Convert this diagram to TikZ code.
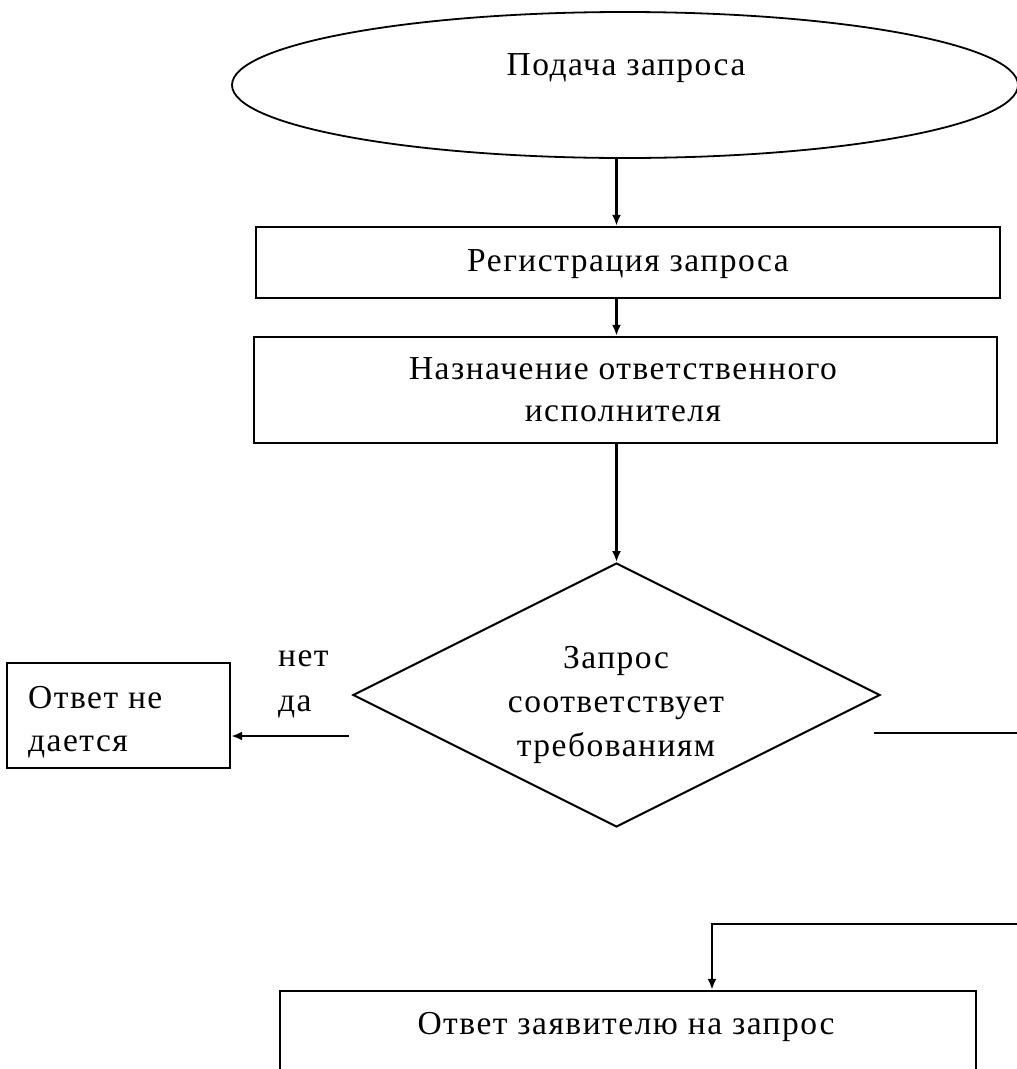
\documentclass[tikz,border=0pt]{standalone}
\usepackage{fontspec}
\setmainfont[LetterSpace=4.5]{Liberation Serif}
\usetikzlibrary{shapes.geometric,arrows.meta,calc}
\begin{document}
\begin{tikzpicture}[x=1pt,y=-1pt,
  shapeline/.style={draw=black,line width=1.8pt},
  boxshape/.style={shapeline,rectangle,inner sep=0pt,line width=2.4pt},
  txt/.style={anchor=base,inner sep=0pt,font=\fontsize{33.5pt}{43pt}\selectfont},
  txtl/.style={anchor=base west,inner sep=0pt,font=\fontsize{33.5pt}{43pt}\selectfont},
  arr/.style={line width=2.2pt,-{Latex[length=11pt,width=9pt]}},
  conn/.style={line width=2.2pt}]
\useasboundingbox (0,0) rectangle (1017,1069);
\clip (0,0) rectangle (1017,1069);

% shapes
\node[shapeline,ellipse,inner sep=0pt,minimum width=786pt,minimum height=146pt,line width=1.8pt] (start) at (625,85) {};
\node[boxshape,minimum width=744pt,minimum height=71pt] (reg) at (628,262.5) {};
\node[boxshape,minimum width=743pt,minimum height=106pt] (assign) at (625.5,390) {};
\node[shapeline,diamond,inner sep=0pt,minimum width=527pt,minimum height=264pt,line width=2pt] (dec) at (616.5,695) {};
\node[boxshape,minimum width=223pt,minimum height=105pt] (notbox) at (118.5,715.5) {};
\node[boxshape,minimum width=696pt,minimum height=160pt] (final) at (628,1071) {};

% texts
\node[txt] (t1) at (626,75) {Подача запроса};
\node[txt] (t2) at (628,271) {Регистрация запроса};
\node[txt] (t3a) at (623,379) {Назначение ответственного};
\node[txt] (t3b) at (623,421) {исполнителя};
\node[txt] (t4a) at (616,668) {Запрос};
\node[txt] (t4b) at (616,712) {соответствует};
\node[txt] (t4c) at (616,756) {требованиям};
\node[txtl] (t5a) at (28,708) {Ответ не};
\node[txtl] (t5b) at (28,751) {дается};
\node[txtl] (no) at (278,666) {нет};
\node[txtl] (yes) at (278,711) {да};
\node[txt] (t6) at (626,1034) {Ответ заявителю на запрос};

% connectors
\draw[arr] (dec.north |- start.south) -- (dec.north |- reg.north);
\draw[arr] (dec.north |- reg.south) -- (dec.north |- assign.north);
\draw[arr] (dec.north |- assign.south) -- (dec.north);

\coordinate (noA) at (349,736);
\draw[arr] (noA) -- (noA -| notbox.east);

\coordinate (yesA) at (874,733);
\coordinate (yesB) at (1030,733);
\draw[conn] (yesA) -- (yesB);

\coordinate (retA) at (1030,924);
\coordinate (retB) at (712,924);
\draw[arr] (retA) -- (retB) -- (retB |- final.north);
\end{tikzpicture}
\end{document}
